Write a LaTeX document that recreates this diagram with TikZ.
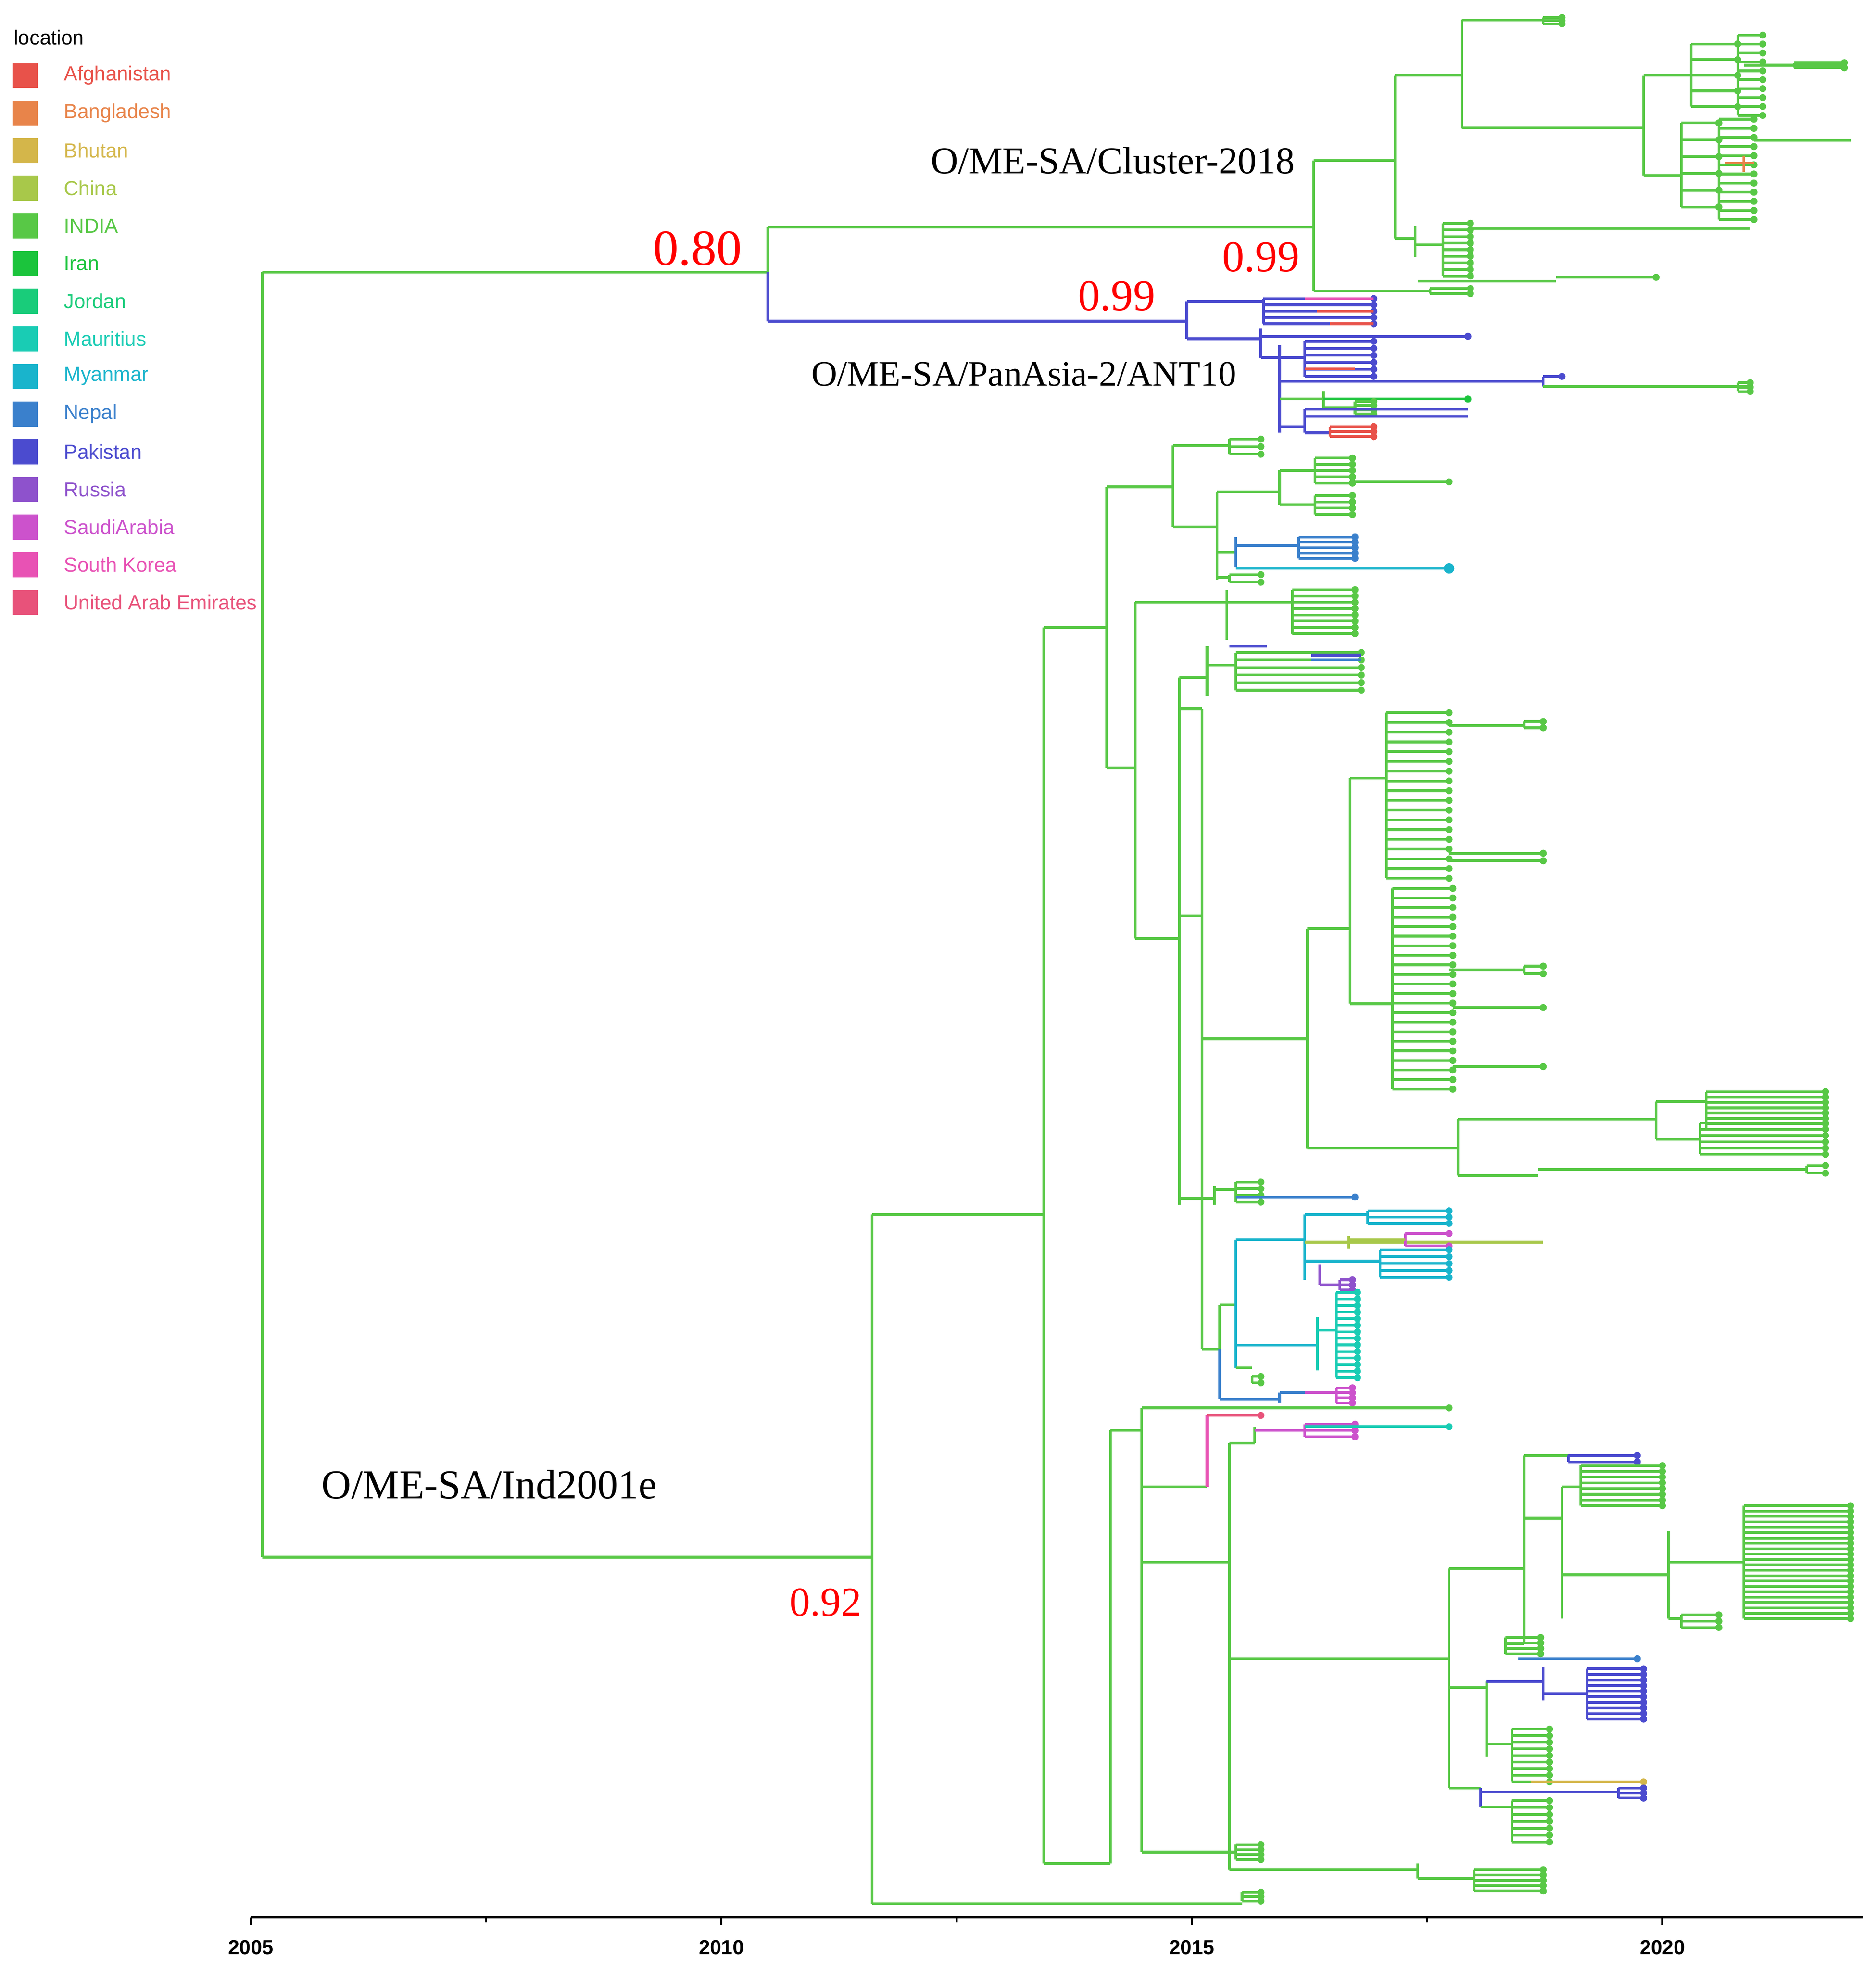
\documentclass[tikz,border=0pt]{standalone}
\usepackage{fontspec}
\setmainfont{Liberation Serif}
\newfontfamily\sansf{Liberation Sans}
\definecolor{cAf}{RGB}{232,82,74}
\definecolor{cBa}{RGB}{232,132,74}
\definecolor{cBh}{RGB}{212,182,74}
\definecolor{cCh}{RGB}{168,200,74}
\definecolor{cIn}{RGB}{88,200,70}
\definecolor{cIr}{RGB}{27,196,60}
\definecolor{cJo}{RGB}{25,204,122}
\definecolor{cMu}{RGB}{25,204,180}
\definecolor{cMy}{RGB}{25,180,204}
\definecolor{cNe}{RGB}{58,128,204}
\definecolor{cPa}{RGB}{75,75,207}
\definecolor{cRu}{RGB}{142,82,204}
\definecolor{cSA}{RGB}{204,82,204}
\definecolor{cSK}{RGB}{232,82,180}
\definecolor{cUA}{RGB}{232,82,122}
\newcommand\Hb[4]{\draw[#1] (#2,#4)--(#3,#4);}
\newcommand\Vb[4]{\draw[#1] (#2,#3)--(#2,#4);}
\newcommand\Comb[6]{%
 \draw[#1] (#2,#3)--(#2,#4);
 \foreach \i in {1,...,#5}{%
  \pgfmathsetmacro\yy{#3+(#4-#3)*(\i-1)/max(#5-1,1)}%
  \draw[#1] (#2,\yy)--(#6,\yy);
  \fill[#1] (#6,\yy) circle[radius=0.8pt];}}
\begin{document}
\begin{tikzpicture}[x=0.01cm,y=-0.01cm,line width=0.6pt]
\useasboundingbox (0,0) rectangle (1495,1570);
\tikzset{leg/.style={font=\sansf\fontsize{4.6}{5}\selectfont,anchor=west,inner sep=0},
 clade/.style={font=\fontsize{8.6}{10}\selectfont,inner sep=0},
 post/.style={text=red,inner sep=0}}
% legend
\node[leg,text=black] (lt) at (10,30) {location};
\foreach \c/\t [count=\k] in {cAf/Afghanistan,cBa/Bangladesh,cBh/Bhutan,cCh/China,cIn/INDIA,cIr/Iran,cJo/Jordan,cMu/Mauritius,cMy/Myanmar,cNe/Nepal,cPa/Pakistan,cRu/Russia,cSA/SaudiArabia,cSK/South Korea,cUA/United Arab Emirates}{
 \fill[\c] (10,{30+30*\k-10}) rectangle (30,{30+30*\k+10});
 \node[leg,text=\c] (l\k) at (50,{30+30*\k}) {\t};}
% axis
\draw[black,line width=0.5pt] (200,1528)--(1485,1528);
\foreach \x/\l in {200/2005,575/2010,950/2015,1325/2020}{
 \draw[black,line width=0.5pt] (\x,1528)--(\x,1534);
 \node[font=\sansf\bfseries\fontsize{4.6}{5}\selectfont,inner sep=0] (ax\l) at (\x,1552) {\l};}
\foreach \x in {387.5,762.5,1137.5}{\draw[black,line width=0.4pt] (\x,1528)--(\x,1532);}
% root
\Vb{cIn}{209}{217}{1241}
\Hb{cIn}{209}{612}{217}
\Vb{cIn}{612}{181}{217}\Vb{cPa}{612}{217}{256}
\Hb{cIn}{612}{1047}{181}
\Hb{cPa}{612}{946}{256}
% Cluster-2018
\Vb{cIn}{1047}{128}{232}
\Hb{cIn}{1047}{1112}{128}
\Vb{cIn}{1112}{60}{190}
\Hb{cIn}{1112}{1165}{60}
\Vb{cIn}{1165}{16}{102}
\Hb{cIn}{1165}{1230}{16}\Comb{cIn}{1230}{14}{19}{3}{1245}
\Hb{cIn}{1165}{1310}{102}
\Vb{cIn}{1310}{60}{140}
\Hb{cIn}{1310}{1348}{60}
\Comb{cIn}{1348}{35}{85}{5}{1385}
\Comb{cIn}{1385}{28}{92}{10}{1405}
\Hb{cIn}{1390}{1470}{52}\Comb{cIn}{1430}{50}{54}{2}{1470}
\Hb{cIn}{1310}{1340}{140}
\Comb{cIn}{1340}{98}{165}{6}{1370}
\Comb{cIn}{1370}{95}{175}{12}{1398}
\Hb{cIn}{1398}{1475}{112}
\Hb{cBa}{1375}{1398}{130}\Vb{cBa}{1390}{124}{137}
\Hb{cIn}{1112}{1128}{190}
\Vb{cIn}{1128}{180}{205}
\Hb{cIn}{1128}{1150}{195}
\Comb{cIn}{1150}{178}{220}{9}{1172}
\Hb{cIn}{1172}{1395}{182}
\Hb{cIn}{1047}{1140}{232}\Comb{cIn}{1140}{230}{234}{2}{1172}
\Hb{cIn}{1130}{1240}{224}\Hb{cIn}{1240}{1320}{221}\fill[cIn] (1320,221) circle[radius=0.8pt];
% PanAsia-2
\Vb{cPa}{946}{240}{270}
\Hb{cPa}{946}{1007}{240}
\Comb{cPa}{1007}{238}{258}{5}{1095}
\Hb{cSK}{1040}{1095}{238}\Hb{cAf}{1050}{1095}{248}\Hb{cAf}{1060}{1095}{258}
\Hb{cPa}{946}{1005}{270}
\Vb{cPa}{1005}{262}{285}
\Hb{cPa}{1005}{1170}{268}\fill[cPa] (1170,268) circle[radius=0.8pt];
\Hb{cPa}{1005}{1020}{285}
\Vb{cPa}{1020}{275}{345}
\Hb{cPa}{1020}{1040}{285}
\Comb{cPa}{1040}{272}{300}{6}{1095}
\Hb{cAf}{1040}{1080}{294}
\Hb{cPa}{1020}{1230}{304}\Vb{cPa}{1230}{300}{308}\Hb{cPa}{1230}{1245}{300}\fill[cPa] (1245,300) circle[radius=0.8pt];
\Hb{cIn}{1230}{1393}{308}\Comb{cIn}{1385}{305}{312}{3}{1395}
\Vb{cIn}{1055}{312}{325}\Hb{cIn}{1020}{1055}{318}
\Hb{cIr}{1055}{1170}{318}\fill[cIr] (1170,318) circle[radius=0.8pt];
\Comb{cIn}{1080}{320}{330}{4}{1095}\Hb{cIn}{1055}{1080}{325}
\Hb{cPa}{1040}{1170}{326}\Hb{cPa}{1040}{1170}{332}
\Vb{cPa}{1040}{326}{345}\Hb{cPa}{1020}{1040}{340}
\Hb{cPa}{1040}{1060}{345}\Comb{cAf}{1060}{340}{348}{3}{1095}
% Ind2001e
\Hb{cIn}{209}{695}{1241}
\Vb{cIn}{695}{968}{1517}
\Hb{cIn}{695}{832}{968}
\Vb{cIn}{832}{500}{1485}
\Hb{cIn}{832}{882}{500}
\Vb{cIn}{882}{388}{612}
\Hb{cIn}{882}{935}{388}
\Vb{cIn}{935}{355}{420}
\Hb{cIn}{935}{980}{355}\Comb{cIn}{980}{350}{362}{3}{1005}
\Hb{cIn}{935}{970}{420}
\Vb{cIn}{970}{392}{462}
\Hb{cIn}{970}{1020}{392}
\Vb{cIn}{1020}{375}{402}
\Hb{cIn}{1020}{1048}{375}\Comb{cIn}{1048}{365}{385}{5}{1078}
\Hb{cIn}{1020}{1048}{402}\Comb{cIn}{1048}{395}{410}{4}{1078}
\Hb{cIn}{1078}{1155}{384}\fill[cIn] (1155,384) circle[radius=0.8pt];
\Hb{cIn}{970}{985}{440}
\Vb{cNe}{985}{428}{452}
\Hb{cNe}{985}{1035}{435}\Comb{cNe}{1035}{428}{445}{5}{1080}
\Hb{cMy}{985}{1155}{453}\fill[cMy] (1155,453) circle[radius=1.2pt];
\Hb{cIn}{970}{980}{460}\Comb{cIn}{980}{458}{464}{2}{1005}
\Hb{cIn}{882}{905}{612}
\Vb{cIn}{905}{480}{748}
\Hb{cIn}{905}{978}{480}
\Vb{cIn}{978}{470}{510}
\Hb{cIn}{978}{1030}{480}\Comb{cIn}{1030}{470}{505}{8}{1080}
\Hb{cIn}{905}{940}{748}
\Vb{cIn}{940}{540}{960}
\Hb{cIn}{940}{962}{540}
\Vb{cIn}{962}{515}{555}
\Hb{cPa}{980}{1010}{515}
\Hb{cIn}{962}{985}{530}
\Comb{cIn}{985}{520}{550}{6}{1085}
\Hb{cPa}{1045}{1085}{522}\Hb{cNe}{1045}{1085}{526}
\Hb{cIn}{940}{958}{730}
\Vb{cIn}{958}{565}{1075}
\Hb{cIn}{940}{958}{565}
\Hb{cIn}{958}{1042}{828}
\Vb{cIn}{1042}{740}{915}
\Hb{cIn}{1042}{1076}{740}
\Vb{cIn}{1076}{620}{800}
\Hb{cIn}{1076}{1105}{620}\Comb{cIn}{1105}{568}{700}{18}{1155}
\Hb{cIn}{1076}{1110}{800}\Comb{cIn}{1110}{708}{868}{22}{1158}
\Hb{cIn}{1155}{1215}{578}\Comb{cIn}{1215}{575}{580}{2}{1230}
\Hb{cIn}{1155}{1230}{680}\fill[cIn] (1230,680) circle[radius=0.8pt];
\Hb{cIn}{1155}{1230}{686}\fill[cIn] (1230,686) circle[radius=0.8pt];
\Hb{cIn}{1155}{1215}{773}\Comb{cIn}{1215}{770}{776}{2}{1230}
\Hb{cIn}{1158}{1230}{803}\fill[cIn] (1230,803) circle[radius=0.8pt];
\Hb{cIn}{1158}{1230}{850}\fill[cIn] (1230,850) circle[radius=0.8pt];
\Hb{cIn}{1042}{1162}{915}
\Vb{cIn}{1162}{892}{937}
\Hb{cIn}{1162}{1320}{892}
\Vb{cIn}{1320}{878}{908}
\Hb{cIn}{1320}{1360}{878}\Comb{cIn}{1360}{870}{900}{8}{1455}
\Hb{cIn}{1320}{1355}{908}\Comb{cIn}{1355}{895}{920}{6}{1455}
\Hb{cIn}{1162}{1226}{937}\Hb{cIn}{1226}{1440}{932}\Comb{cIn}{1440}{929}{935}{2}{1455}
\Hb{cIn}{940}{968}{955}
\Vb{cIn}{968}{945}{960}
\Hb{cIn}{968}{985}{948}\Comb{cIn}{985}{942}{958}{4}{1005}
\Hb{cNe}{985}{1080}{954}\fill[cNe] (1080,954) circle[radius=0.8pt];
\Hb{cIn}{958}{972}{1075}
\Vb{cIn}{972}{1040}{1075}
\Hb{cIn}{972}{985}{1040}
\Vb{cMy}{985}{988}{1090}
\Hb{cMy}{985}{1040}{988}
\Vb{cMy}{1040}{968}{1020}
\Hb{cMy}{1040}{1090}{968}\Comb{cMy}{1090}{965}{975}{3}{1155}
\Vb{cCh}{1075}{985}{995}\Hb{cCh}{1040}{1075}{990}\Hb{cCh}{1075}{1230}{990}
\Comb{cSA}{1120}{983}{993}{2}{1155}\Hb{cCh}{1075}{1120}{988}
\Hb{cMy}{1040}{1100}{1005}\Comb{cMy}{1100}{996}{1018}{5}{1155}
\Vb{cRu}{1052}{1008}{1024}\Hb{cRu}{1052}{1068}{1024}\Comb{cRu}{1068}{1020}{1028}{3}{1078}
\Hb{cMy}{985}{1050}{1072}
\Vb{cMu}{1050}{1050}{1092}
\Hb{cMu}{1050}{1065}{1060}\Comb{cMu}{1065}{1030}{1098}{14}{1082}
\Hb{cIn}{985}{998}{1090}\Comb{cIn}{998}{1097}{1102}{2}{1005}
\Vb{cNe}{972}{1075}{1115}
\Hb{cNe}{972}{1020}{1115}
\Vb{cNe}{1020}{1110}{1118}
\Hb{cNe}{1020}{1040}{1110}\Hb{cSA}{1040}{1065}{1110}\Comb{cSA}{1065}{1106}{1118}{4}{1078}
% bottom group
\Hb{cIn}{695}{990}{1517}\Comb{cIn}{990}{1508}{1515}{3}{1005}
\Hb{cIn}{832}{885}{1485}
\Vb{cIn}{885}{1140}{1485}
\Hb{cIn}{885}{910}{1140}
\Vb{cIn}{910}{1122}{1476}
\Hb{cIn}{910}{1155}{1122}\fill[cIn] (1155,1122) circle[radius=0.8pt];
\Hb{cIn}{910}{962}{1185}
\Vb{cSK}{962}{1128}{1185}
\Hb{cUA}{962}{1005}{1128}\fill[cUA] (1005,1128) circle[radius=0.8pt];
\Hb{cIn}{910}{980}{1245}
\Vb{cIn}{980}{1150}{1490}
\Hb{cIn}{980}{1000}{1150}
\Vb{cIn}{1000}{1137}{1150}
\Hb{cSA}{1000}{1040}{1140}\Comb{cSA}{1040}{1135}{1145}{3}{1080}
\Hb{cMu}{1040}{1155}{1137}\fill[cMu] (1155,1137) circle[radius=0.8pt];
\Hb{cIn}{980}{1155}{1322}
\Vb{cIn}{1155}{1250}{1425}
\Hb{cIn}{1155}{1215}{1250}
\Vb{cIn}{1215}{1160}{1310}
\Hb{cIn}{1215}{1250}{1160}\Comb{cPa}{1250}{1160}{1165}{2}{1305}
\Hb{cIn}{1215}{1245}{1210}
\Vb{cIn}{1245}{1185}{1290}
\Hb{cIn}{1245}{1260}{1185}\Comb{cIn}{1260}{1168}{1200}{8}{1325}
\Hb{cIn}{1245}{1330}{1255}
\Vb{cIn}{1330}{1220}{1290}
\Hb{cIn}{1330}{1390}{1245}\Comb{cIn}{1390}{1200}{1290}{22}{1475}
\Hb{cIn}{1330}{1340}{1290}\Comb{cIn}{1340}{1287}{1297}{3}{1370}
\Hb{cIn}{1215}{1200}{1310}\Comb{cIn}{1200}{1305}{1318}{4}{1228}
\Hb{cNe}{1210}{1305}{1322}\fill[cNe] (1305,1322) circle[radius=0.8pt];
\Hb{cIn}{1155}{1185}{1345}
\Vb{cIn}{1185}{1340}{1400}
\Hb{cPa}{1185}{1230}{1340}
\Vb{cPa}{1230}{1328}{1355}
\Hb{cPa}{1230}{1265}{1350}\Comb{cPa}{1265}{1330}{1370}{10}{1310}
\Hb{cIn}{1185}{1205}{1390}\Comb{cIn}{1205}{1378}{1420}{9}{1235}
\Hb{cBh}{1220}{1310}{1420}\fill[cBh] (1310,1420) circle[radius=0.8pt];
\Hb{cIn}{1155}{1180}{1425}
\Vb{cPa}{1180}{1425}{1440}
\Hb{cPa}{1180}{1290}{1428}\Comb{cPa}{1290}{1425}{1433}{3}{1310}
\Hb{cIn}{1180}{1205}{1440}\Comb{cIn}{1205}{1435}{1468}{7}{1235}
\Hb{cIn}{910}{985}{1476}\Comb{cIn}{985}{1470}{1482}{4}{1005}
\Hb{cIn}{980}{1130}{1490}
\Vb{cIn}{1130}{1485}{1497}
\Hb{cIn}{1130}{1175}{1497}\Comb{cIn}{1175}{1490}{1507}{5}{1230}
% labels
\node[clade] (c18) at (887,128) {O/ME-SA/Cluster-2018};
\node[clade,font=\fontsize{8.1}{10}\selectfont] (cpa) at (816,298) {O/ME-SA/PanAsia-2/ANT10};
\node[clade,font=\fontsize{9.3}{11}\selectfont] (cind) at (390,1183) {O/ME-SA/Ind2001e};
\node[post,font=\fontsize{11.5}{13}\selectfont] (p1) at (556,198) {0.80};
\node[post,font=\fontsize{10}{12}\selectfont] (p2) at (1005,205) {0.99};
\node[post,font=\fontsize{10}{12}\selectfont] (p3) at (890,236) {0.99};
\node[post,font=\fontsize{9.3}{11}\selectfont] (p4) at (658,1277) {0.92};
\end{tikzpicture}
\end{document}
